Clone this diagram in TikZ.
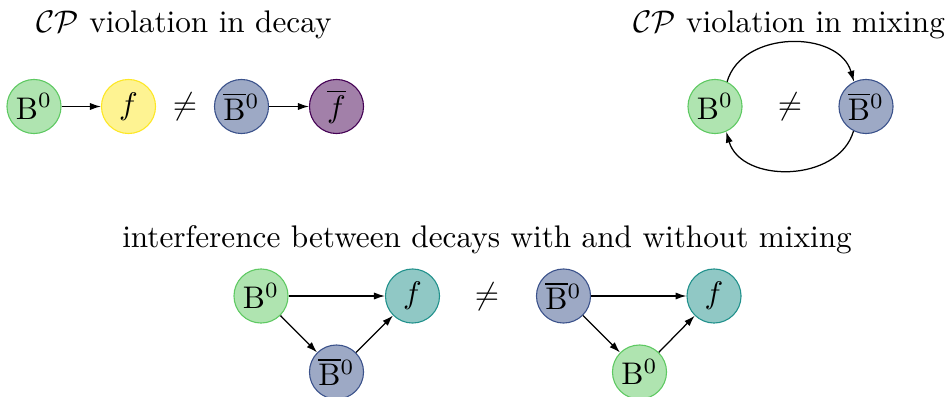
\documentclass[tikz,border=0pt]{standalone}
\usetikzlibrary{arrows.meta}
\definecolor{vgreen}{HTML}{5EC962}
\definecolor{vyellow}{HTML}{FDE725}
\definecolor{vblue}{HTML}{3B528B}
\definecolor{vpurple}{HTML}{440154}
\definecolor{vteal}{HTML}{21918C}
\begin{document}
\begin{tikzpicture}[x=0.32pt,y=0.32pt,
  state/.style={circle, minimum size=17.3pt, inner sep=0pt, line width=0.35pt, draw=#1, fill=#1!50},
  flow/.style={-{Latex[length=3.5pt,width=2.3pt]}, line width=0.4pt},
  title/.style={anchor=base, inner sep=0pt}]
\useasboundingbox (0,0) rectangle (947,396);

% CP violation in decay
\node[title] (t1) at (184,363) {$\mathcal{CP}$ violation in decay};
\node[state=vgreen]   (b1)  at (34,289.5)    {$\mathrm{B}^0$};
\node[state=vyellow]  (f1)  at (128.5,289.5) {$f$};
\node                 (ne1) at (185,289.5)   {$\neq$};
\node[state=vblue]    (bb1) at (241.5,289.5) {$\overline{\mathrm{B}}{}^0$};
\node[state=vpurple]  (fb1) at (336.5,289.5) {$\overline{f}$};
\draw[flow] (b1) -- (f1);
\draw[flow] (bb1) -- (fb1);

% CP violation in mixing
\node[title] (t2) at (789,363) {$\mathcal{CP}$ violation in mixing};
\node[state=vgreen] (b2)  at (715,289.5) {$\mathrm{B}^0$};
\node               (ne2) at (790,289.5) {$\neq$};
\node[state=vblue]  (bb2) at (866,289.5) {$\overline{\mathrm{B}}{}^0$};
\draw[flow] (b2.64) .. controls +(15,52) and +(-15,52) .. (bb2.116);
\draw[flow] (bb2.-117) .. controls +(-15,-52) and +(15,-52) .. (b2.-66);

% interference between decays with and without mixing
\node[title] (t3) at (487,149) {interference between decays with and without mixing};
\node[state=vgreen] (b3)  at (261,100)   {$\mathrm{B}^0$};
\node[state=vteal]  (f3)  at (412.5,100) {$f$};
\node[state=vblue]  (bb3) at (336.5,24)  {$\overline{\mathrm{B}}{}^0$};
\node               (ne3) at (487,99)    {$\neq$};
\node[state=vblue]  (bb4) at (563.5,100) {$\overline{\mathrm{B}}{}^0$};
\node[state=vteal]  (f4)  at (714,100)   {$f$};
\node[state=vgreen] (b4)  at (639.5,24)  {$\mathrm{B}^0$};
\draw[flow] (b3) -- (f3);
\draw[flow] (b3) -- (bb3);
\draw[flow] (bb3) -- (f3);
\draw[flow] (bb4) -- (f4);
\draw[flow] (bb4) -- (b4);
\draw[flow] (b4) -- (f4);
\end{tikzpicture}
\end{document}
